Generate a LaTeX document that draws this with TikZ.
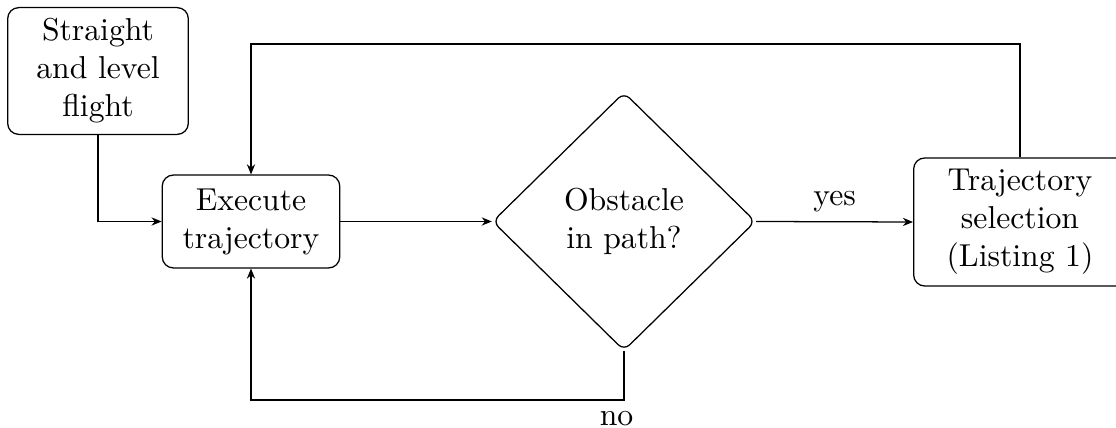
\documentclass[tikz,border=0pt]{standalone}
\usetikzlibrary{shapes.geometric,arrows.meta}
\begin{document}
\begin{tikzpicture}[x=0.3155pt,y=-0.3155pt,
  box/.style={draw,rounded corners=3.5pt,align=center,inner sep=2pt,line width=0.4pt},
  dec/.style={draw,diamond,aspect=1,rounded corners=2.5pt,align=center,minimum width=83pt,minimum height=81.5pt,inner sep=0pt,line width=0.4pt},
  conn/.style={line width=0.4pt},
  arr/.style={conn,-{Stealth[length=3.2pt,width=2.6pt]}}]
\useasboundingbox (0,0) rectangle (1116,428);
\clip (0,0) rectangle (1116,428);
\node[box,minimum width=57pt,minimum height=40pt] (a) at (98,71) {Straight\\and level\\flight};
\node[box,minimum width=56pt,minimum height=29.3pt] (b) at (251,221.5) {Execute\\trajectory};
\node[dec] (d) at (624,221.5) {Obstacle\\in path?};
\node[box,anchor=west,minimum width=90pt,minimum height=40.4pt] (c) at (913,222) {};
\node[align=center,inner sep=0pt] (ct) at (1020,222) {Trajectory\\selection\\(Listing 1)};
\coordinate (top) at (1020,44);
\coordinate (topl) at (251,44);
\draw[arr] (a.south) |- (b.west);
\draw[arr] (b.east) -- (d.west);
\draw[arr] (d.east) -- node[above=-0.5pt] {yes} (c.west);
\draw[arr] (top |- c.north) -- (top) -- (topl) -- (b.north);
\coordinate (bot) at (624,400);
\draw[arr] (d.south) -- (bot) -- node[pos=0.02,below] {no} (bot -| b.south) -- (b.south);
\end{tikzpicture}
\end{document}
